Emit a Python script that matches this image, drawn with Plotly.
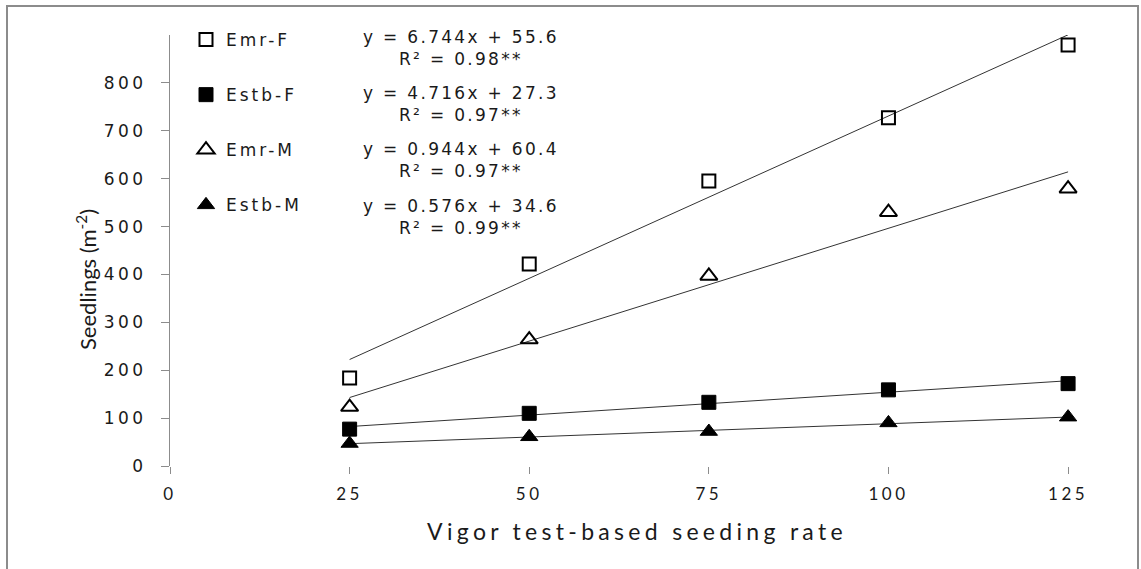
import numpy as np
import plotly.graph_objects as go

# ---- data ----
rates = [25, 50, 75, 100, 125]
emr_f = [184, 422, 595, 727, 879]
estb_f = [77, 110, 133, 159, 172]
emr_m = [123, 264, 397, 530, 579]
estb_m = [47, 61, 72, 90, 102]

series_names = ["Emr-F", "Estb-F", "Emr-M", "Estb-M"]
equations = ["y = 6.744x + 55.6", "y = 4.716x + 27.3", "y = 0.944x + 60.4", "y = 0.576x + 34.6"]
r2_texts = ["R² = 0.98**", "R² = 0.97**", "R² = 0.97**", "R² = 0.99**"]

x_ticks = [0, 25, 50, 75, 100, 125]
y_ticks = [0, 100, 200, 300, 400, 500, 600, 700, 800]

x_title = "Vigor test-based seeding rate"
y_title = "Seedlings (m<sup>-2</sup>)"

# ---- layout constants (pixels) ----
W, H = 1141, 569
ML, MR, MT, MB = 170, 37, 35, 103
PW, PH = W - ML - MR, H - MT - MB


def px_x(p):
    return (p - ML) / PW


def px_y(p):
    return (H - MB - p) / PH


def sp(text, px):
    return f'<span style="letter-spacing:{px}px">{text}</span>'


styles = [
    dict(symbol="square-open", size=13, color="black", line=dict(width=2, color="black")),
    dict(symbol="square", size=14, color="black", line=dict(width=1, color="black")),
    dict(symbol="triangle-up-open", size=15, color="black", line=dict(width=2, color="black")),
    dict(symbol="triangle-up", size=15, color="black", line=dict(width=1, color="black")),
]

fig = go.Figure()
all_series = [emr_f, estb_f, emr_m, estb_m]
xs = np.array(rates, dtype=float)
for name, ys, st in zip(series_names, all_series, styles):
    k, b = np.polyfit(xs, np.array(ys, dtype=float), 1)
    xl = np.array([xs.min(), xs.max()])
    fig.add_trace(go.Scatter(x=xl, y=k * xl + b, mode="lines",
                             line=dict(color="#333333", width=1),
                             showlegend=False, hoverinfo="skip"))
for name, ys, st in zip(series_names, all_series, styles):
    fig.add_trace(go.Scatter(x=rates, y=ys, mode="markers", marker=st,
                             name=sp(name, 3), legendgroup=name, cliponaxis=False))

# equations
eq_y_px = [48, 104, 160, 217]
for eq, r2, ypx in zip(equations, r2_texts, eq_y_px):
    fig.add_annotation(xref="paper", yref="paper", x=px_x(461), y=px_y(ypx),
                       text=sp(eq, 2.3) + "<br>" + sp(r2, 2.3), showarrow=False,
                       align="center", xanchor="center", yanchor="middle",
                       font=dict(family="DejaVu Sans", size=17, color="#1a1a1a"))

# y-axis title
fig.add_annotation(xref="paper", yref="paper", x=px_x(86), y=px_y(280),
                   text=y_title, textangle=-90, showarrow=False,
                   xanchor="center", yanchor="middle",
                   font=dict(family="Lato", size=22, color="#1a1a1a"))

# outer frame
fig.add_shape(type="rect", xref="paper", yref="paper",
              x0=px_x(7), x1=px_x(1138), y0=px_y(600), y1=px_y(6),
              line=dict(color="#8c8c8c", width=2), fillcolor="rgba(0,0,0,0)", layer="below")

fig.update_layout(
    width=W, height=H,
    margin=dict(l=ML, r=MR, t=MT, b=MB, pad=0),
    paper_bgcolor="white", plot_bgcolor="white",
    showlegend=True,
    legend=dict(x=px_x(186), xanchor="left", y=px_y(22), yanchor="top",
                traceorder="grouped", tracegroupgap=30,
                font=dict(family="DejaVu Sans", size=17, color="#1a1a1a"),
                bgcolor="rgba(0,0,0,0)", borderwidth=0),
    xaxis=dict(range=[0, 130], tickmode="array", tickvals=x_ticks,
               ticktext=[sp(str(t), 3.5) for t in x_ticks],
               showgrid=False, zeroline=False, showline=False,
               ticks="outside", ticklen=7, tickcolor="#8c8c8c", tickwidth=1,
               ticklabelstandoff=6,
               tickfont=dict(family="Lato", size=17, color="#1a1a1a"),
               title=dict(text=sp(x_title, 4.3), standoff=20,
                          font=dict(family="Lato", size=23, color="#1a1a1a"))),
    yaxis=dict(range=[0, 900], tickmode="array", tickvals=y_ticks,
               ticktext=[sp(str(t), 3.5) for t in y_ticks],
               showgrid=False, zeroline=False, showline=True,
               linecolor="#8c8c8c", linewidth=1,
               ticks="outside", ticklen=8, tickcolor="#8c8c8c", tickwidth=1,
               ticklabelstandoff=11,
               tickfont=dict(family="DejaVu Sans", size=17, color="#1a1a1a")),
)

fig.write_html("out.html", config={"displayModeBar": False},
               post_script="document.body.style.margin='0px';document.body.style.overflow='hidden';")
